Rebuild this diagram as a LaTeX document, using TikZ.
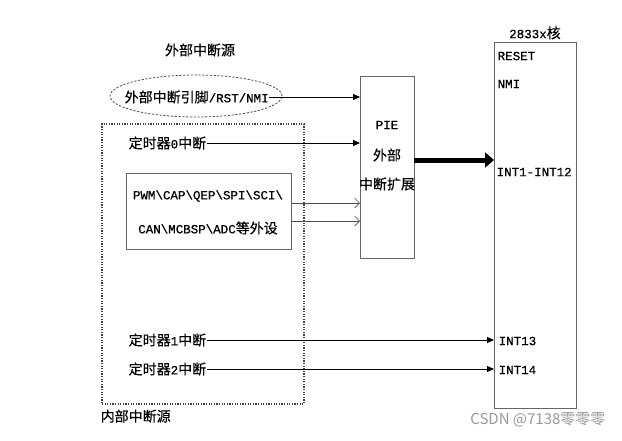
\documentclass[tikz,border=0pt]{standalone}
\usepackage{fontspec}
\setmainfont[FakeBold=0.6]{Liberation Mono}
\newfontfamily\cjk[FakeBold=0.4]{Noto Sans CJK SC}
\newfontfamily\wmfont{Noto Sans CJK SC}
\usetikzlibrary{arrows.meta,shapes.geometric}
\begin{document}
\begin{tikzpicture}[x=1pt,y=-1pt,
  lbl/.style={inner sep=0.5pt, font=\fontsize{12.5}{15}\selectfont},
  zh/.style={inner sep=0.5pt, font=\cjk\fontsize{14}{15}\selectfont},
  frame/.style={draw=black!60, line width=0.8pt, inner sep=0pt, outer sep=0pt},
  arr/.style={-{Triangle[length=7pt,width=6pt]}, line width=0.9pt},
  openarr/.style={-{Straight Barb[length=5pt,width=10pt]}, line width=0.6pt, draw=black!70},
  bigarr/.style={-{Triangle[length=9pt,width=15pt]}, line width=5pt}
]
\useasboundingbox (0,0) rectangle (622,440);
\fill[white] (0,0) rectangle (622,440);

% core
\node[frame, minimum width=82pt, minimum height=366pt, anchor=north west] (core) at (494,42) {};
\node[zh, anchor=south] (corelbl) at (535,40) {{\rmfamily\fontsize{12.5}{15}\selectfont 2833x}核};
\node[lbl, anchor=west] (reset) at (497,56) {RESET};
\node[lbl, anchor=west] (nmi) at (497,84) {NMI};
\node[lbl, anchor=west] (int112) at (496,172) {INT1-INT12};
\node[lbl, anchor=west] (int13) at (498,341) {INT13};
\node[lbl, anchor=west] (int14) at (498,370) {INT14};

% PIE
\node[frame, minimum width=54pt, minimum height=182pt, anchor=north west] (pie) at (360,76) {};
\node[lbl] (pie1) at (387,125) {PIE};
\node[zh] (pie2) at (387,155) {外部};
\node[zh] (pie3) at (387,184) {中断扩展};

% external
\node[zh] (extlbl) at (200,50) {外部中断源};
\node[draw=black!70, dashed, dash pattern=on 2.2pt off 1.6pt, line width=0.8pt, ellipse,
      minimum width=172pt, minimum height=42pt] (ell) at (196,96) {};
\node[zh, anchor=west] (ext) at (124,97) {外部中断引脚{\rmfamily\fontsize{12.5}{15}\selectfont/RST/NMI}};

% internal dotted region
\node[draw=black!75, dash pattern=on 1.2pt off 1.4pt, line width=1.1pt, minimum width=202pt, minimum height=280pt,
      anchor=north west, inner sep=0pt, outer sep=0pt] (intreg) at (102,124) {};
\node[zh, anchor=north west] (intlbl) at (100,409) {内部中断源};

\node[zh, anchor=west] (t0) at (128,143) {定时器{\rmfamily\fontsize{12.5}{15}\selectfont 0}中断};
\node[frame, minimum width=165pt, minimum height=76pt, anchor=north west] (per) at (126,173) {};
\node[lbl] (per1) at (208,196) {PWM\textbackslash CAP\textbackslash QEP\textbackslash SPI\textbackslash SCI\textbackslash};
\node[zh] (per2) at (208,228) {{\rmfamily\fontsize{12.5}{15}\selectfont CAN\textbackslash MCBSP\textbackslash ADC}等外设};

\node[zh, anchor=west] (t1) at (128,340) {定时器{\rmfamily\fontsize{12.5}{15}\selectfont 1}中断};
\node[zh, anchor=west] (t2) at (128,369) {定时器{\rmfamily\fontsize{12.5}{15}\selectfont 2}中断};

% connectors
\coordinate (pa) at (pie.west |- 0,97);
\draw[arr] (ext.east) -- (pa);
\coordinate (pb) at (pie.west |- 0,143);
\draw[arr] (t0.east |- pb) -- (pb);
\coordinate (pc1) at (pie.west |- 0,203);
\coordinate (pc2) at (pie.west |- 0,221);
\draw[openarr] (per.east |- pc1) -- (pc1);
\draw[openarr] (per.east |- pc2) -- (pc2);
\coordinate (pd) at (pie.east |- 0,160);
\draw[bigarr] (pd) -- (core.west |- pd);
\coordinate (ce) at (core.west |- 0,340);
\draw[arr] (t1.east |- ce) -- (ce);
\coordinate (cf) at (core.west |- 0,369);
\draw[arr] (t2.east |- cf) -- (cf);

% watermark
\node[font=\wmfont\fontsize{15}{17}\selectfont, text=black!40, anchor=east] (wm) at (609,420) {CSDN @7138零零零};
\end{tikzpicture}
\end{document}
